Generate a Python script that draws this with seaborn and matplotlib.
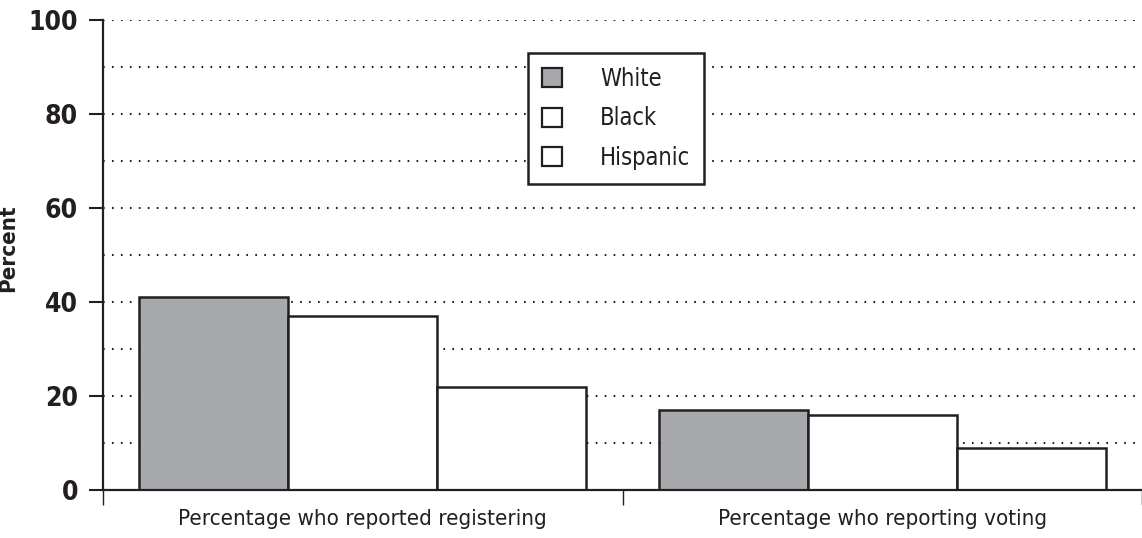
import matplotlib
matplotlib.use("Agg")
import matplotlib.pyplot as plt
from matplotlib import font_manager
import seaborn as sns
import pandas as pd

# Survey results (percent)
categories = ["Percentage who reported registering", "Percentage who reporting voting"]
groups = ["White", "Black", "Hispanic"]
white = [41, 17]
black = [37, 16]
hispanic = [22, 9]

colors = {"White": "#a7a9ac", "Black": "#ffffff", "Hispanic": "#ffffff"}
ink = "#231f20"

rows = []
for g, vals in zip(groups, [white, black, hispanic]):
    for c, v in zip(categories, vals):
        rows.append({"category": c, "group": g, "percent": v})
df = pd.DataFrame(rows)

sns.set_theme(style="white")
names = {f.name for f in font_manager.fontManager.ttflist}
family = "Liberation Sans Narrow" if "Liberation Sans Narrow" in names else "DejaVu Sans"
plt.rcParams["font.family"] = [family, "DejaVu Sans"]
if family == "DejaVu Sans":
    plt.rcParams["font.stretch"] = "condensed"

fig = plt.figure(figsize=(11.42, 5.38), dpi=100)
ax = fig.add_axes([103 / 1142, 1 - 490 / 538, 1039 / 1142, 470 / 538])

sns.barplot(data=df, x="category", y="percent", hue="group", order=categories,
            hue_order=groups, palette=colors, edgecolor=ink, linewidth=1.8,
            width=0.86, gap=0, saturation=1, ax=ax, zorder=3)

ax.set_xlim(-0.5, -0.5 + 1039 / 521)
ax.set_ylim(0, 100)
ax.set_yticks([0, 20, 40, 60, 80, 100])
ax.set_yticks(range(10, 100, 20), minor=True)
ax.set_yticklabels(["0", "20", "40", "60", "80", "100"], fontsize=19, fontweight="bold", color=ink)
ax.tick_params(axis="y", which="major", length=10, width=1.5, color=ink, pad=8, left=True)
ax.tick_params(axis="y", which="minor", length=0)

# dotted gridlines at every 10 percent
for yv in range(10, 101, 10):
    ax.axhline(yv, color=ink, linewidth=1.5, linestyle=(0, (0.8, 3.5)), zorder=1)

ax.set_xticks([-0.5, 0.5, 1.5])
ax.set_xticklabels(["", "", ""])
ax.tick_params(axis="x", which="major", length=11, width=1.0, color=ink, bottom=True)
for i, c in enumerate(categories):
    ax.text(i, -4.0, c, ha="center", va="top", fontsize=16, color=ink,
            transform=ax.transData)

ax.set_xlabel("")
ax.set_ylabel("Percent", fontsize=16, fontweight="bold", color=ink)
ax.yaxis.set_label_coords(-0.0818, 0.515)

for side in ["top", "right"]:
    ax.spines[side].set_visible(False)
for side in ["left", "bottom"]:
    ax.spines[side].set_color(ink)
    ax.spines[side].set_linewidth(1.6)
    ax.spines[side].set_zorder(4)

handles, labels = ax.get_legend_handles_labels()
leg = ax.legend(handles, labels, loc="upper left", bbox_to_anchor=(0.409, 0.93),
                frameon=True, fancybox=False, edgecolor=ink, framealpha=1, fontsize=17,
                handlelength=0.85, handleheight=0.85, handletextpad=1.6,
                labelspacing=0.65, borderpad=0.6, borderaxespad=0)
leg.get_frame().set_linewidth(1.8)
leg.get_frame().set_facecolor("white")
leg.set_zorder(5)
for t in leg.get_texts():
    t.set_color(ink)
for h in leg.legend_handles:
    h.set_edgecolor(ink)
    h.set_linewidth(1.6)

fig.savefig("out.png", dpi=100)
